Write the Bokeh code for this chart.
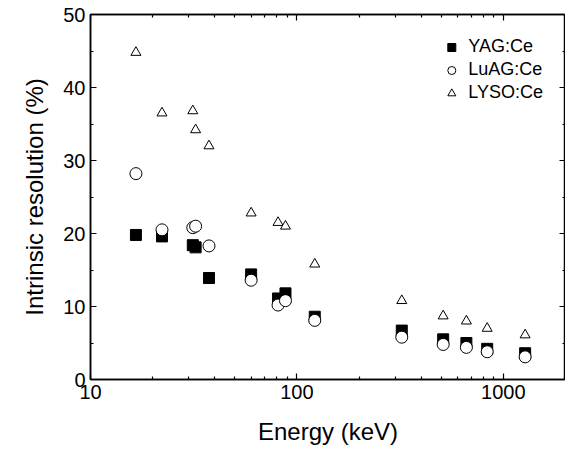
from bokeh.plotting import figure
from bokeh.models import LogAxis, LinearAxis, Legend, LegendItem, FixedTicker, Range1d
from bokeh.embed import file_html
from bokeh.resources import INLINE

energy = [16.6, 22.2, 31.3, 32.3, 37.5, 60, 81, 88, 122, 322, 511, 662, 835, 1275]
yag = [19.8, 19.6, 18.4, 18.1, 13.9, 14.4, 11.1, 11.8, 8.6, 6.7, 5.5, 5.0, 4.2, 3.6]
luag = [28.2, 20.5, 20.8, 21.0, 18.3, 13.6, 10.2, 10.8, 8.1, 5.8, 4.8, 4.4, 3.8, 3.1]
lyso = [44.8, 36.5, 36.8, 34.2, 32.0, 22.8, 21.5, 21.0, 15.8, 10.8, 8.7, 8.0, 7.0, 6.1]

FONT = "Liberation Sans"
X_MAJOR = [10, 100, 1000]
X_MINOR = [20, 30, 40, 50, 60, 70, 80, 90, 200, 300, 400, 500, 600, 700, 800, 900, 2000]

p = figure(width=565, height=447, x_axis_type="log", output_backend="svg",
           toolbar_location=None, x_range=Range1d(10, 2000), y_range=Range1d(0, 50),
           min_border_left=90, min_border_top=14, min_border_bottom=10, min_border_right=0)
p.grid.visible = False
p.outline_line_color = "black"
p.outline_line_width = 1.5

def style(ax, labels=True):
    ax.axis_line_width = 1.5
    ax.major_tick_in = 6
    ax.major_tick_out = 0
    ax.minor_tick_in = 3
    ax.minor_tick_out = 0
    ax.major_tick_line_width = 1.2
    ax.minor_tick_line_width = 1.2
    ax.major_label_text_font = FONT
    ax.major_label_text_font_size = "20px"
    ax.major_label_text_color = "black"
    ax.axis_label_text_font = FONT
    ax.axis_label_text_font_size = "24px"
    ax.axis_label_text_color = "black"
    ax.axis_label_text_font_style = "normal"
    if not labels:
        ax.major_label_text_color = None
        ax.major_label_standoff = 0
        ax.major_label_text_font_size = "1px"

xa = p.xaxis[0]
xa.axis_label = "Energy (keV)"
xa.ticker = FixedTicker(ticks=X_MAJOR, minor_ticks=X_MINOR)
xa.major_label_overrides = {t: str(t) for t in X_MAJOR}
style(xa)
xa.axis_label_standoff = 16
ya = p.yaxis[0]
ya.axis_label = "Intrinsic resolution (%)"
ya.ticker = FixedTicker(ticks=[0, 10, 20, 30, 40, 50], minor_ticks=[5, 15, 25, 35, 45])
style(ya)
ya.axis_label_standoff = 12

top = LogAxis(ticker=FixedTicker(ticks=X_MAJOR, minor_ticks=X_MINOR))
style(top, False)
p.add_layout(top, "above")
right = LinearAxis(ticker=FixedTicker(ticks=[0, 10, 20, 30, 40, 50], minor_ticks=[5, 15, 25, 35, 45]))
style(right, False)
p.add_layout(right, "right")

r1 = p.scatter(energy, yag, marker="square", size=11, color="black")
r2 = p.scatter(energy, luag, marker="circle", size=12, fill_color="white", line_color="black", line_width=1)
r3 = p.scatter(energy, lyso, marker="triangle", size=10, fill_color="white", line_color="black", line_width=1)

leg = Legend(items=[LegendItem(label="YAG:Ce", renderers=[r1]),
                    LegendItem(label="LuAG:Ce", renderers=[r2]),
                    LegendItem(label="LYSO:Ce", renderers=[r3])],
             location="top_right", border_line_color=None, background_fill_alpha=0,
             label_text_font=FONT, label_text_font_size="18px", label_text_color="black",
             spacing=2, glyph_width=24, margin=22, padding=4, label_height=20)
p.add_layout(leg)

open("out.html", "w").write(file_html(p, INLINE))
